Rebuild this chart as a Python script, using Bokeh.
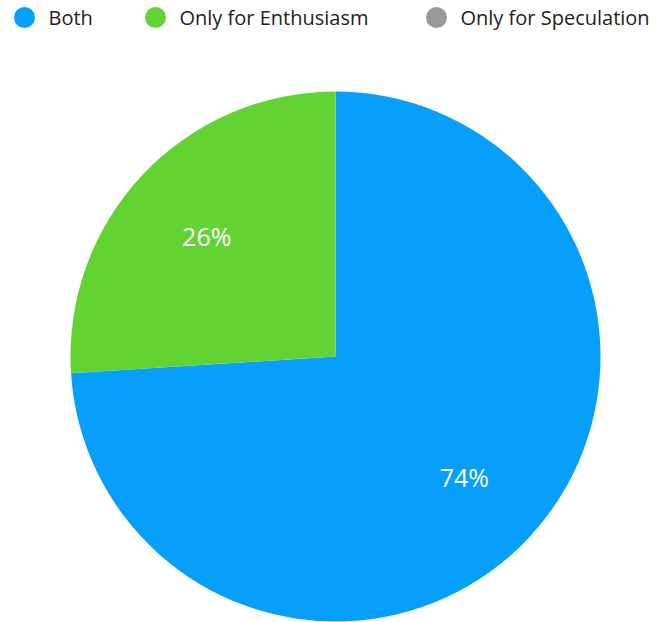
import numpy as np
from bokeh.plotting import figure
from bokeh.models import Range1d, ColumnDataSource
from bokeh.core.properties import value
from bokeh.embed import file_html
from bokeh.resources import INLINE

categories = ["Both", "Only for Enthusiasm", "Only for Speculation"]
shares = [74, 26, 0]
colors = ["#069ffc", "#63d334", "#999999"]

W, H = 657, 622
p = figure(width=W, height=H, output_backend="svg", toolbar_location=None,
           x_range=Range1d(0, W), y_range=Range1d(0, H), min_border=0)
p.axis.visible = False
p.grid.visible = False
p.outline_line_color = None
p.background_fill_color = "white"
p.border_fill_color = "white"

cx, cy, r = 335, H - 356, 265
vals = np.array(shares, dtype=float)
frac = vals / vals.sum()
cum = np.concatenate([[0], np.cumsum(frac)])
start = np.pi / 2 - 2 * np.pi * cum[:-1]
end = np.pi / 2 - 2 * np.pi * cum[1:]
mid = (start + end) / 2
mask = vals > 0

src = ColumnDataSource(dict(start=start[mask], end=end[mask],
                            color=[c for c, m in zip(colors, mask) if m]))
p.wedge(x=cx, y=cy, radius=r, start_angle="start", end_angle="end",
        direction="clock", fill_color="color", line_color=None, source=src)

lr = r * 2 / 3
lab = ColumnDataSource(dict(
    x=(cx + lr * np.cos(mid))[mask],
    y=(cy + lr * np.sin(mid))[mask],
    t=[f"{round(f*100)}%" for f in frac[mask]]))
p.text(x="x", y="y", text="t", source=lab, text_color="white",
       text_font=value("Open Sans"), text_font_size="25px",
       text_font_style="normal",
       text_align="center", text_baseline="middle")

# legend
lx = [24, 155, 436]
ly = H - 17
p.scatter(x=lx, y=[ly] * 3, size=21, fill_color=colors, line_color=None)
p.text(x=[x + 24 for x in lx], y=[ly] * 3, text=categories, text_color="#222222",
       text_font=value("Open Sans"), text_font_size="20px",
       text_align="left", text_baseline="middle")

open("out.html", "w").write(file_html(p, INLINE))
